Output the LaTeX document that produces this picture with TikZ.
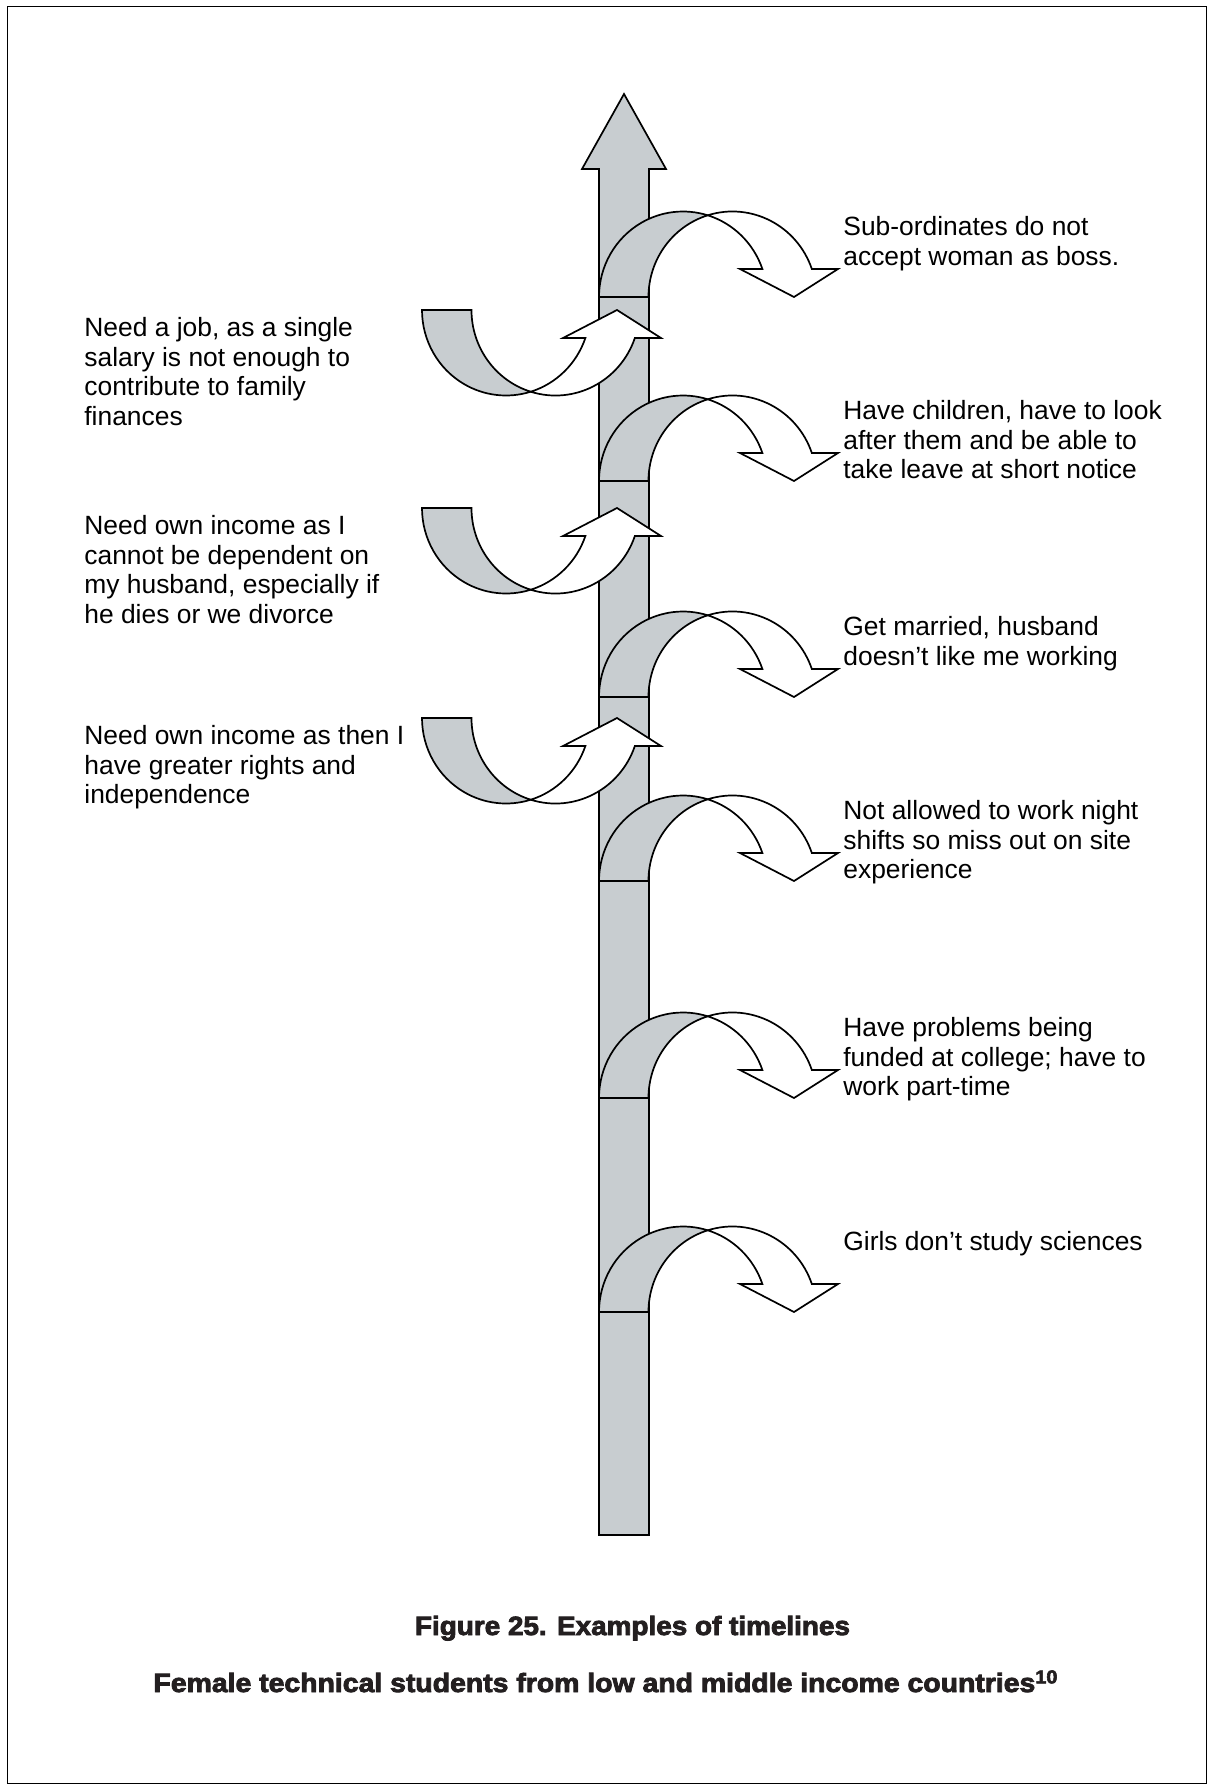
\documentclass[tikz,border=0pt]{standalone}
\usepackage{fontspec}
\usepackage{graphicx}
\setmainfont{Liberation Sans}
\newfontfamily\titlefont[FakeBold=3]{Liberation Sans Bold}
\definecolor{ribbongray}{RGB}{200,205,208}
\definecolor{inkblack}{RGB}{35,31,32}
\newsavebox\fitbox
\newcommand\hfit[2]{\sbox\fitbox{#2}\pgfmathsetmacro\fitsx{#1/\wd\fitbox}\scalebox{\fitsx}[1]{\usebox\fitbox}}
% curved ribbon arrow, local origin = outer-left base point, units = px
\newcommand\ribbonarrow{%
  \draw[backface] (0,0)
    arc[start angle=180,end angle=72.87,x radius=42pt,y radius=42.75pt]
    arc[start angle=107.13,end angle=180,x radius=42pt,y radius=42.75pt] -- cycle;
  \draw[frontface] (108.74,81.72)
    arc[start angle=107.13,end angle=19.12,x radius=42pt,y radius=42.75pt]
    -- (239,28) -- (195,0) -- (141,28) -- (163.37,28)
    arc[start angle=19.12,end angle=72.87,x radius=42pt,y radius=42.75pt] -- cycle;
}
\begin{document}
\begin{tikzpicture}[x=0.5pt,y=0.5pt,
  outline/.style={draw=black,line width=0.85pt,line join=miter},
  backface/.style={outline,fill=ribbongray},
  frontface/.style={outline,fill=white},
  storytext/.style={anchor=north west,inner sep=0pt,align=left,text=black,
    font=\fontsize{13.2pt}{14.8pt}\selectfont},
  headtext/.style={anchor=base,inner sep=0pt,text=inkblack,
    font=\titlefont\fontsize{13.2pt}{16pt}\selectfont}]
\useasboundingbox (0,0) rectangle (1213,-1789);
\fill[white] (0,0) rectangle (1213,-1789);
\draw[line width=0.5pt] (7,-6) rectangle (1206,-1783);
% main timeline arrow
\draw[backface] (599,-1535) -- (599,-169) -- (582,-169) -- (624,-94)
  -- (666,-169) -- (649,-169) -- (649,-1535) -- cycle;
% left (positive) arrows
\foreach \t in {310,508,718}{
  \begin{scope}[shift={(422,-\t)},yscale=-1]
    \ribbonarrow
  \end{scope}
}
% right (negative) arrows
\foreach \b in {297,481,697,881,1098,1312}{
  \begin{scope}[shift={(599,-\b)}]
    \ribbonarrow
  \end{scope}
}
% right texts
\node[storytext] (r1) at (843,-214.3) {\strut Sub-ordinates do not\\accept woman as boss.};
\node[storytext] (r2) at (843,-398.3) {\strut Have children, have to look\\after them and be able to\\take leave at short notice};
\node[storytext] (r3) at (843,-614.3) {\strut Get married, husband\\doesn’t like me working};
\node[storytext] (r4) at (843,-798.3) {\strut Not allowed to work night\\shifts so miss out on site\\experience};
\node[storytext] (r5) at (843,-1015.3) {\strut Have problems being\\funded at college; have to\\work part-time};
\node[storytext] (r6) at (843,-1229.3) {\strut Girls don’t study sciences};
% left texts
\node[storytext] (l1) at (84,-315.3) {\strut Need a job, as a single\\salary is not enough to\\contribute to family\\finances};
\node[storytext] (l2) at (84,-513.3) {\strut Need own income as I\\cannot be dependent on\\my husband, especially if\\he dies or we divorce};
\node[storytext] (l3) at (84,-723.3) {\strut Need own income as then I\\have greater rights and\\independence};
% captions
\node[headtext] (title) at (632.5,-1635) {\hfit{217.5}{Figure 25. Examples of timelines}};
\node[headtext] (subtitle) at (606,-1692) {\hfit{452.5}{Female technical students from low and middle income countries\textsuperscript{10}}};
\end{tikzpicture}
\end{document}
